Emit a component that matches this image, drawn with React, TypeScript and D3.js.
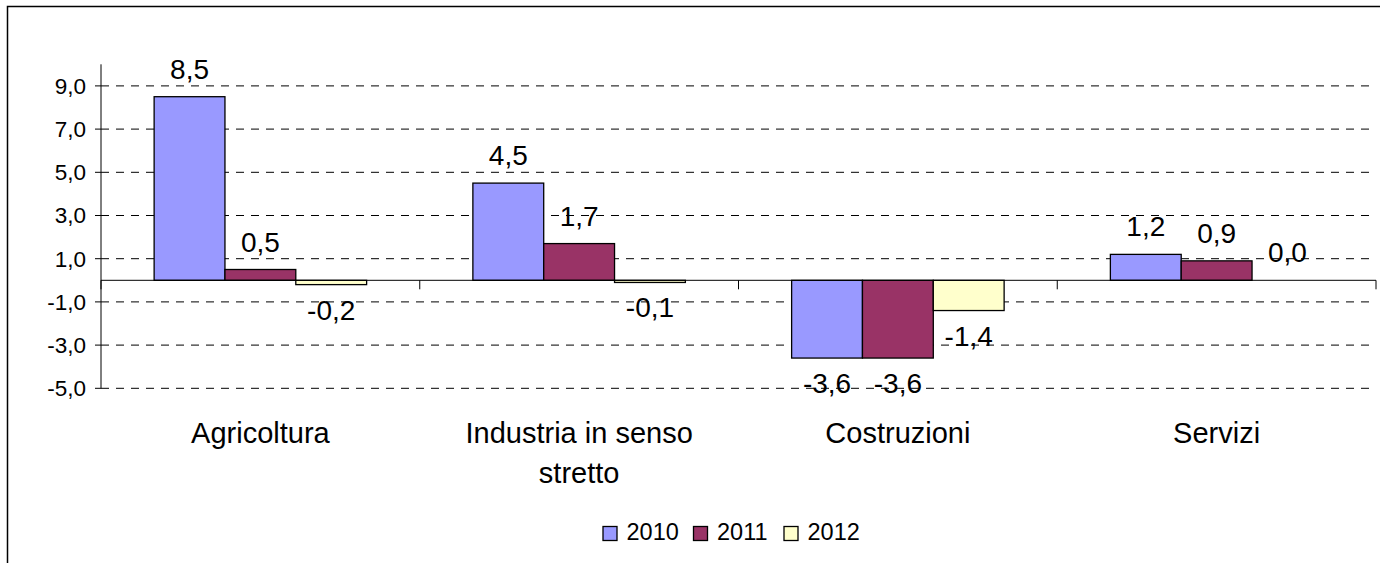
import React from "react";
import * as d3 from "d3";

const categories = ["Agricoltura", "Industria in senso stretto", "Costruzioni", "Servizi"];
const categoryLines = [["Agricoltura"], ["Industria in senso", "stretto"], ["Costruzioni"], ["Servizi"]];
const seriesNames = ["2010", "2011", "2012"];
const values2010 = [8.5, 4.5, -3.6, 1.2];
const values2011 = [0.5, 1.7, -3.6, 0.9];
const values2012 = [-0.2, -0.1, -1.4, 0.0];
const seriesColors = ["#9999FF", "#993366", "#FFFFCC"];
const yTicks = [-5, -3, -1, 1, 3, 5, 7, 9];

const W = 1380;
const H = 563;
const FONT = "'Liberation Sans', Arial, sans-serif";

export default function App() {
  const series = [values2010, values2011, values2012];
  const plotLeft = 101;
  const plotRight = 1376;
  const y = d3.scaleLinear().domain([-5, 10]).range([388.3, 64.3]);
  const x = d3.scaleBand<string>().domain(categories).range([plotLeft, plotRight]).padding(0);
  const xs = d3
    .scaleBand<string>()
    .domain(seriesNames)
    .range([0, x.bandwidth()])
    .paddingInner(0)
    .paddingOuter(0.75);
  const fmt = (v: number) =>
    d3.format(".1f")(v).replace(".", ",").replace("\u2212", "-");
  const y0 = y(0);

  return (
    <svg
      width={W}
      height={H}
      style={{ position: "absolute", left: 0, top: 0, background: "#fff" }}
      fontFamily={FONT}
    >
      <rect x={0} y={0} width={W} height={H} fill="#fff" />
      <rect x={7.5} y={6.5} width={W + 20} height={H + 20} fill="none" stroke="#000" strokeWidth={1.5} />

      {/* gridlines */}
      {yTicks.map((t) => (
        <line
          key={"g" + t}
          x1={plotLeft}
          x2={plotRight}
          y1={y(t)}
          y2={y(t)}
          stroke="#000"
          strokeWidth={1}
          strokeDasharray="8 7"
        />
      ))}

      {/* bars */}
      {categories.map((c, ci) =>
        series.map((vals, si) => {
          const v = vals[ci];
          const bx = (x(c) as number) + (xs(seriesNames[si]) as number);
          const top = Math.min(y(v), y0);
          const h = Math.abs(y(v) - y0);
          return (
            <rect
              key={c + si}
              x={bx}
              y={top}
              width={xs.bandwidth()}
              height={Math.max(h, 0)}
              fill={seriesColors[si]}
              stroke="#000"
              strokeWidth={1.3}
            />
          );
        })
      )}

      {/* y axis */}
      <line x1={plotLeft} x2={plotLeft} y1={y(10)} y2={y(-5)} stroke="#000" strokeWidth={1} />
      {yTicks.map((t) => (
        <g key={"t" + t}>
          <line x1={plotLeft - 6} x2={plotLeft} y1={y(t)} y2={y(t)} stroke="#000" strokeWidth={1} />
          <text x={86} y={y(t) + 7.8} textAnchor="end" fontSize={22.5} fill="#000">
            {fmt(t)}
          </text>
        </g>
      ))}

      {/* zero line + category ticks */}
      <line x1={plotLeft} x2={plotRight} y1={y0} y2={y0} stroke="#000" strokeWidth={1} />
      {[...categories.map((c) => x(c) as number), plotRight].map((px, i) => (
        <line key={"ct" + i} x1={px} x2={px} y1={y0} y2={y0 + 9} stroke="#000" strokeWidth={1} />
      ))}

      {/* data labels */}
      {categories.map((c, ci) =>
        series.map((vals, si) => {
          const v = vals[ci];
          const cx = (x(c) as number) + (xs(seriesNames[si]) as number) + xs.bandwidth() / 2;
          const ty = v >= 0 ? y(v) - 18 : y(v) + 35;
          return (
            <text key={"l" + c + si} x={cx} y={ty} textAnchor="middle" fontSize={28} fill="#000">
              {fmt(v)}
            </text>
          );
        })
      )}

      {/* category labels */}
      {categories.map((c, ci) => (
        <text
          key={"c" + c}
          x={(x(c) as number) + x.bandwidth() / 2}
          y={443}
          textAnchor="middle"
          fontSize={29}
          fill="#000"
        >
          {categoryLines[ci].map((ln, li) => (
            <tspan key={li} x={(x(c) as number) + x.bandwidth() / 2} dy={li === 0 ? 0 : 40}>
              {ln}
            </tspan>
          ))}
        </text>
      ))}

      {/* legend */}
      {seriesNames.map((s, i) => {
        const lx = 603 + i * 90.5;
        return (
          <g key={"lg" + s}>
            <rect x={lx} y={526.5} width={14} height={14} fill={seriesColors[i]} stroke="#000" strokeWidth={1.3} />
            <text x={lx + 23.5} y={539.5} fontSize={23.5} fill="#000">
              {s}
            </text>
          </g>
        );
      })}
    </svg>
  );
}
